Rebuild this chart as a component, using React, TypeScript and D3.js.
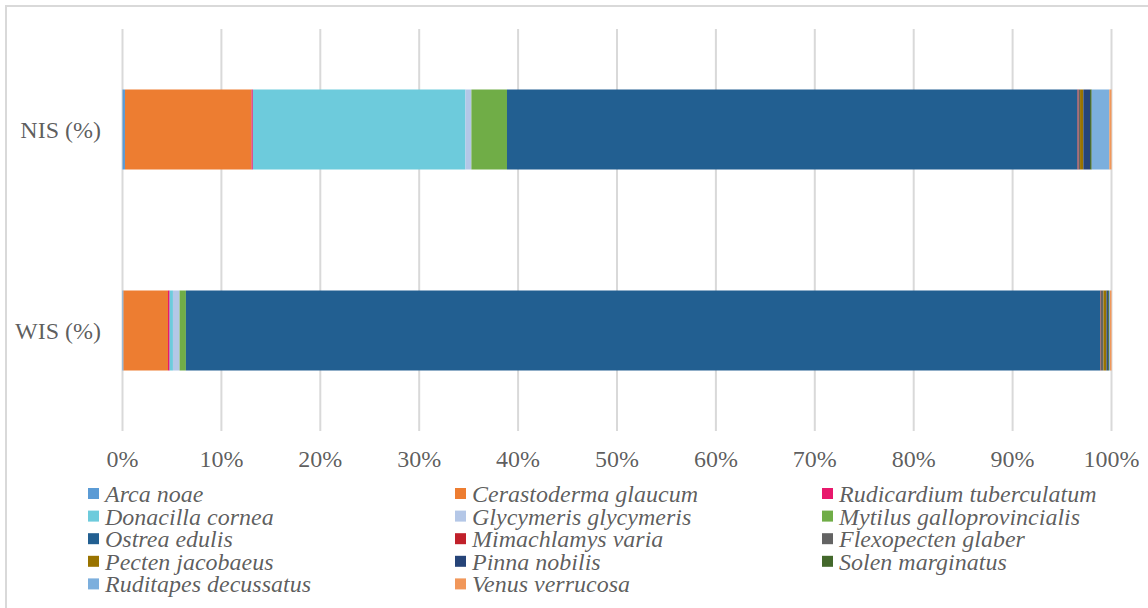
import React from "react";
import * as d3 from "d3";

const categories = ["NIS (%)", "WIS (%)"];
const species = [
  "Arca noae",
  "Cerastoderma glaucum",
  "Rudicardium tuberculatum",
  "Donacilla cornea",
  "Glycymeris glycymeris",
  "Mytilus galloprovincialis",
  "Ostrea edulis",
  "Mimachlamys varia",
  "Flexopecten glaber",
  "Pecten jacobaeus",
  "Pinna nobilis",
  "Solen marginatus",
  "Ruditapes decussatus",
  "Venus verrucosa",
];
const colors = [
  "#5B9BD5",
  "#ED7D31",
  "#E8186C",
  "#6DCBDC",
  "#B4C7E7",
  "#70AD47",
  "#225F91",
  "#C0202A",
  "#636363",
  "#997300",
  "#264478",
  "#43682B",
  "#7CAFDD",
  "#F1975A",
];
const nisValues = [0.25, 12.8, 0.13, 21.5, 0.6, 3.6, 57.7, 0.1, 0.15, 0.33, 0.68, 0.17, 1.78, 0.22];
const wisValues = [0.1, 4.5, 0.17, 0.33, 0.67, 0.64, 92.43, 0.05, 0.3, 0.3, 0.15, 0.1, 0.1, 0.16];
const xTicks = [0, 10, 20, 30, 40, 50, 60, 70, 80, 90, 100];

const W = 1148;
const H = 608;
const GRID = "#D9D9D9";
const F = '"Liberation Serif", "Times New Roman", monospace';

export default function App() {
  const x = d3.scaleLinear().domain([0, 100]).range([122.5, 1111.5]);
  const y = d3
    .scaleBand<string>()
    .domain(categories)
    .range([29, 431])
    .paddingInner(0.602)
    .paddingOuter(0.301);

  const rows = [nisValues, wisValues].map((vals, ci) => {
    const total = d3.sum(vals);
    const obj: Record<string, any> = { cat: categories[ci] };
    species.forEach((s, i) => (obj[s] = (vals[i] / total) * 100));
    return obj;
  });
  const series = d3.stack<any>().keys(species)(rows);

  const legendCols = [88, 455, 822];
  const legendBase0 = 502;
  const legendDy = 22.6;

  return (
    <svg width={W} height={H} style={{ position: "absolute", left: 0, top: 0 }}>
      <rect x={6} y={6} width={W + 10} height={H + 10} fill="#fff" stroke={GRID} strokeWidth={2} />
      {xTicks.map((t) => (
        <line key={t} x1={x(t)} x2={x(t)} y1={29} y2={431} stroke={GRID} strokeWidth={2} />
      ))}
      {series.map((s, si) =>
        s.map((d, di) => (
          <rect
            key={si + "-" + di}
            x={x(d[0])}
            width={Math.max(0, x(d[1]) - x(d[0]))}
            y={y(categories[di])}
            height={y.bandwidth()}
            fill={colors[si]}
          />
        ))
      )}
      {categories.map((c) => (
        <text
          key={c}
          x={101}
          y={(y(c) as number) + y.bandwidth() / 2 + 8}
          textAnchor="end"
          fontSize={24}
          fillOpacity={0.65}
          style={{ fontFamily: F }}
        >
          {c}
        </text>
      ))}
      {xTicks.map((t) => (
        <text
          key={t}
          x={x(t)}
          y={467}
          textAnchor="middle"
          fontSize={24}
          fillOpacity={0.65}
          style={{ fontFamily: F }}
        >
          {t + "%"}
        </text>
      ))}
      {species.map((s, i) => {
        const col = i % 3;
        const row = Math.floor(i / 3);
        const lx = legendCols[col];
        const base = legendBase0 + row * legendDy;
        return (
          <g key={s}>
            <rect x={lx} y={base - 14} width={11} height={11} fill={colors[i]} />
            <text
              x={lx + 17}
              y={base}
              fontSize={24}
              fillOpacity={0.65}
              style={{ fontFamily: F, fontStyle: "italic" }}
            >
              {s}
            </text>
          </g>
        );
      })}
    </svg>
  );
}
